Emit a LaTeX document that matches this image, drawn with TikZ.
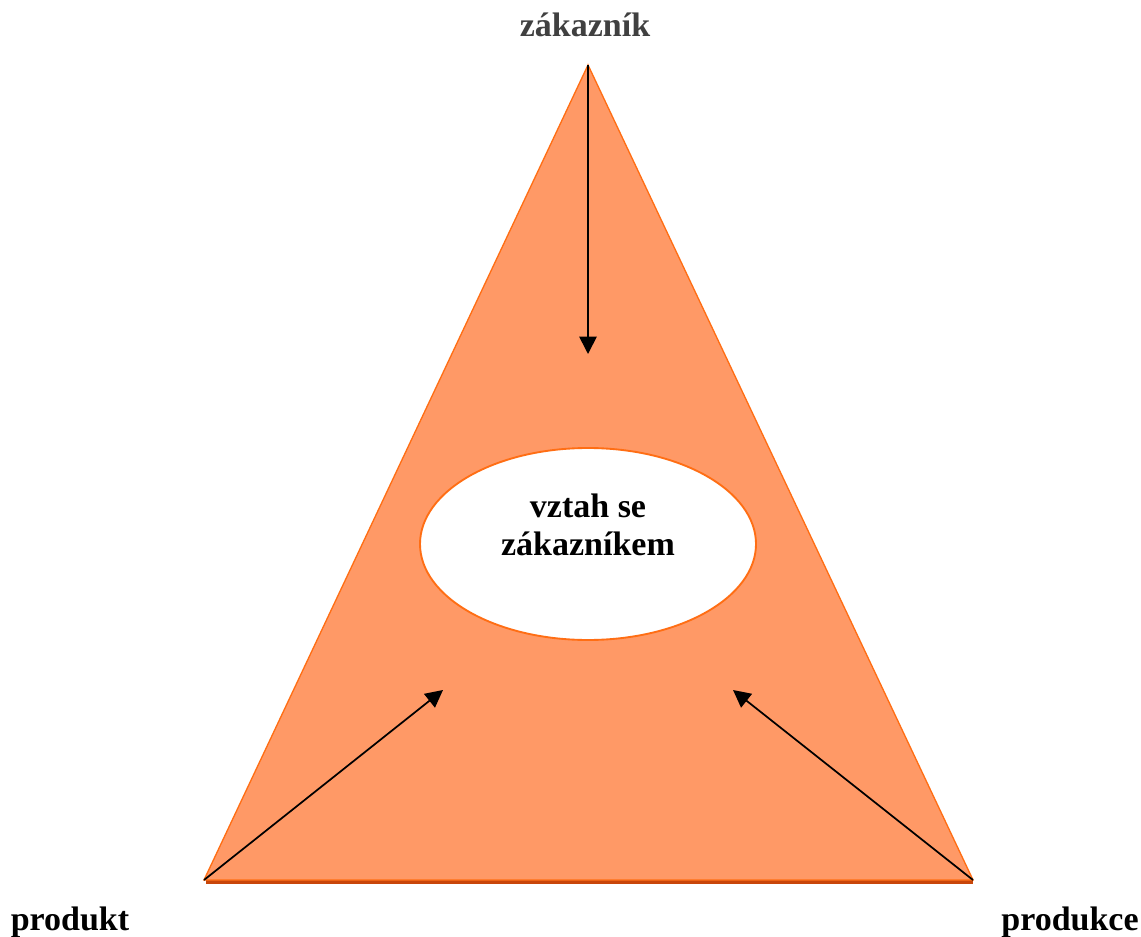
\documentclass[tikz,border=0pt]{standalone}
\usepackage{fontspec}
\setmainfont{Liberation Serif}
\usetikzlibrary{arrows.meta,shapes.geometric}
\definecolor{trifill}{RGB}{255,153,102}
\definecolor{triedge}{RGB}{255,110,20}
\definecolor{tribase}{RGB}{200,70,10}
\definecolor{labelgray}{RGB}{64,64,64}
\tikzset{
  px/.style={x=0.75pt,y=-0.75pt},
  label text/.style={font=\fontsize{25.5pt}{30pt}\selectfont\bfseries, inner sep=0pt, anchor=base},
  force/.style={draw=black, line width=1.3pt, -{Triangle[length=13pt,width=13pt]}},
  core/.style={ellipse, draw=triedge, line width=1.4pt, fill=white, minimum width=252pt, minimum height=144pt, inner sep=0pt}
}
\begin{document}
\begin{tikzpicture}[px]
  \useasboundingbox (0,0) rectangle (1141,937);
  % corners of the triangle
  \coordinate (apex) at (588,65);
  \coordinate (bl) at (204,880);
  \coordinate (br) at (973,880);
  % shaded base edge
  \draw[tribase, line width=2.4pt] (206,882) -- (973,882);
  \fill[trifill] (apex) -- (br) -- (bl) -- cycle;
  \draw[triedge, line width=1pt, line join=miter] (apex) -- (br) -- (bl) -- cycle;
  % central ellipse
  \node[core] (rel) at (588,544) {};
  \node[label text] (relA) at (588,517) {vztah se};
  \node[label text] (relB) at (588,555) {zákazníkem};
  % arrow ends
  \coordinate (topend) at (588,354);
  \coordinate (leftend) at (443,690);
  \coordinate (rightend) at (733,690);
  \draw[force] (apex) -- (topend);
  \draw[force] (bl) -- (leftend);
  \draw[force] (br) -- (rightend);
  % corner labels
  \node[label text, text=labelgray] (cust) at (585,37) {zákazník};
  \node[label text] (prod) at (70,930) {produkt};
  \node[label text] (proc) at (1070,930) {produkce};
\end{tikzpicture}
\end{document}
